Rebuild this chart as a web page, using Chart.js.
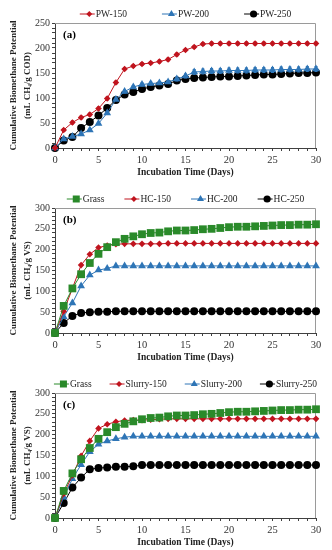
<!DOCTYPE html>
<html>
<head>
<meta charset="utf-8">
<script src="https://cdn.jsdelivr.net/npm/chart.js@4/dist/chart.umd.min.js"></script>
<style>
  html, body { margin: 0; padding: 0; background: #fff; }
  body { width: 332px; height: 550px; position: relative; overflow: hidden; }
  .panel { position: absolute; left: 0; width: 332px; height: 180px; }
</style>
</head>
<body>
<div class="panel" style="top:0"><canvas id="chart-a" width="332" height="180"></canvas></div>
<div class="panel" style="top:185px"><canvas id="chart-b" width="332" height="180"></canvas></div>
<div class="panel" style="top:370px"><canvas id="chart-c" width="332" height="180"></canvas></div>

<script>
/* ── Data ─────────────────────────────────────────────────── */
const days = [0,1,2,3,4,5,6,7,8,9,10,11,12,13,14,15,16,17,18,19,20,21,22,23,24,25,26,27,28,29,30];

// (a) mL CH4 / g COD
const pw150 = [0,36,51,61,67,79,99,131,158,164,168,170,173,177,187,196,202,208,209,209,209,209,209,209,209,209,209,209,209,209,209];
const pw200 = [0,18,23,28,36,49,70,97,113,122,127,129,130,132,138,144,152,153,154,154,155,155,155,156,156,156,157,157,157,158,158];
const pw250 = [0,15,22,40,52,65,80,96,107,112,118,122,125,128,135,138,140,141,142,143,143,144,145,146,147,147,148,149,150,150,151];
const pw150Err = [0,3,3,3,3,3,3,3,3,3,3,3,3,3,3,3,3,3,3,3,3,3,3,3,3,3,3,3,3,3,3];
const pw200Err = [0,2,2,2,2,2,2,2,3,3,3,3,3,3,4,4,5,5,5,5,5,5,5,5,5,5,5,5,5,5,5];

// (b) and (c) mL CH4 / g VS
const grass  = [0,65,107,141,168,190,206,218,226,232,237,240,241,244,246,246,247,249,250,252,254,255,255,256,257,258,259,259,260,260,261];
const hc150  = [0,52,107,163,189,205,210,213,214,214,214,214,214,215,215,215,215,215,215,215,215,215,215,215,215,215,215,215,215,215,215];
const hc200  = [0,39,72,113,139,151,155,161,161,161,161,161,161,161,161,161,161,161,161,161,161,161,161,161,161,161,161,161,161,161,161];
const hc250  = [0,24,41,48,50,51,51,52,52,52,52,52,52,52,52,52,52,52,52,52,52,52,52,52,52,52,52,52,52,52,52];
const slurry150 = [0,58,102,149,185,215,225,231,234,235,235,236,237,238,238,238,238,238,238,238,238,238,238,238,238,238,238,238,238,238,238];
const slurry200 = [0,50,94,128,159,177,185,190,194,196,196,196,196,196,196,196,196,196,196,196,196,196,196,196,196,196,196,196,196,196,196];
const slurry250 = [0,36,73,97,117,120,121,123,123,124,127,127,127,127,127,127,127,127,127,127,127,127,127,127,127,127,127,127,127,127,127];

const xTicksMajor = 5;
const yTicksMajor = 50;

/* ── Styling ──────────────────────────────────────────────── */
const SERIF = "'Liberation Serif', 'DejaVu Serif', serif";
const RED = '#C0141E', BLUE = '#2E75B6', GREEN = '#2A8A2A', BLACK = '#000000';
const AXIS = '#404040';

const styles = {
  red:   { color: RED,   pointStyle: 'rectRot',  radius: 3.3 },
  blue:  { color: BLUE,  pointStyle: 'triangle', radius: 4.5 },
  black: { color: BLACK, pointStyle: 'circle',   radius: 4 },
  green: { color: GREEN, pointStyle: 'rect',     radius: 5.5 }
};

function series(label, data, style, errors) {
  return {
    label, data, errors,
    borderColor: style.color, backgroundColor: style.color,
    borderWidth: 1, tension: 0,
    pointStyle: style.pointStyle, pointRadius: style.radius,
    pointBorderWidth: 0, pointHoverRadius: style.radius,
    clip: false
  };
}

/* ── Decorations: frame, panel tag, error bars, legend ───── */
const decor = {
  id: 'decor',
  beforeDatasetsDraw(chart) {
    const { ctx, chartArea: a } = chart;
    ctx.save();
    ctx.strokeStyle = '#9a9a9a';
    ctx.lineWidth = 1;
    ctx.beginPath();
    ctx.moveTo(a.left, a.top + 0.5);
    ctx.lineTo(a.right - 0.5, a.top + 0.5);
    ctx.lineTo(a.right - 0.5, a.bottom);
    ctx.stroke();
    ctx.restore();
  },
  afterDatasetsDraw(chart) {
    const { ctx, scales: { x, y } } = chart;
    ctx.save();
    chart.data.datasets.forEach(ds => {
      if (!ds.errors) return;
      ctx.strokeStyle = ds.borderColor;
      ctx.lineWidth = 1;
      ds.data.forEach((v, i) => {
        const e = ds.errors[i];
        if (!e) return;
        const px = x.getPixelForValue(days[i]);
        const y1 = y.getPixelForValue(v + e), y2 = y.getPixelForValue(v - e);
        ctx.beginPath();
        ctx.moveTo(px, y1); ctx.lineTo(px, y2);
        ctx.moveTo(px - 1.5, y1); ctx.lineTo(px + 1.5, y1);
        ctx.moveTo(px - 1.5, y2); ctx.lineTo(px + 1.5, y2);
        ctx.stroke();
      });
    });
    ctx.restore();
  },
  afterDraw(chart, args, opts) {
    const { ctx, chartArea: a } = chart;
    ctx.save();
    // panel tag
    ctx.font = `bold 11px ${SERIF}`;
    ctx.fillStyle = '#000';
    ctx.textBaseline = 'middle';
    ctx.fillText(opts.tag, a.left + 8, a.top + 12);

    // legend: line + marker + label
    ctx.font = `9.5px ${SERIF}`;
    const sw = 15;
    const items = chart.data.datasets;
    const widths = items.map(d => sw + 1 + ctx.measureText(d.label).width);
    const total = widths.reduce((s, w) => s + w, 0) + opts.gap * (items.length - 1);
    let lx = (a.left + a.right) / 2 - total / 2;
    const ly = 14;
    items.forEach((d, i) => {
      ctx.strokeStyle = d.borderColor;
      ctx.fillStyle = d.backgroundColor;
      ctx.lineWidth = 1;
      ctx.beginPath();
      ctx.moveTo(lx, ly); ctx.lineTo(lx + sw, ly);
      ctx.stroke();
      Chart.helpers.drawPoint(ctx, { pointStyle: d.pointStyle, radius: d.pointRadius * 0.9, rotation: 0, borderWidth: 0 }, lx + sw / 2 + 2, ly);
      ctx.fillStyle = '#222';
      ctx.fillText(d.label, lx + sw + 1, ly + 0.5);
      lx += widths[i] + opts.gap;
    });
    ctx.restore();
  }
};

/* ── Chart builder ────────────────────────────────────────── */
function makeChart(id, datasets, yMax, yUnit, tag, gap) {
  return new Chart(document.getElementById(id), {
    type: 'line',
    data: { labels: days, datasets },
    options: {
      responsive: false, animation: false,
      layout: { padding: { top: 23, right: 16, bottom: 0, left: 0 } },
      plugins: {
        legend: { display: false },
        tooltip: { enabled: false },
        decor: { tag, gap }
      },
      scales: {
        x: {
          type: 'linear', min: 0, max: 30,
          border: { color: AXIS, width: 1 },
          grid: { drawOnChartArea: false, tickLength: 3, color: AXIS },
          ticks: {
            stepSize: 1, autoSkip: false, maxRotation: 0, padding: 3,
            color: '#333', font: { family: SERIF, size: 10.5 },
            callback: v => (v % xTicksMajor === 0 ? v : '')
          },
          title: {
            display: true, text: 'Incubation Time (Days)', color: '#222',
            font: { family: SERIF, size: 9.5, weight: 'bold' }, padding: { top: 0, bottom: 2 }
          },
          afterFit: s => { s.width = s.width; s.height = 32; }
        },
        y: {
          min: 0, max: yMax,
          border: { color: AXIS, width: 1 },
          grid: { drawOnChartArea: false, tickLength: 3, color: AXIS },
          ticks: {
            stepSize: 10, autoSkip: false, padding: 2,
            color: '#333', font: { family: SERIF, size: 10 },
            callback: v => (v % yTicksMajor === 0 ? v : '')
          },
          title: {
            display: true, text: ['Cumulative Biomethane Potential', yUnit], color: '#222',
            font: { family: SERIF, size: 9, weight: 'bold', lineHeight: 1.5 }, padding: { top: 7, bottom: 0 }
          },
          afterFit: s => { s.width = 55; }
        }
      }
    },
    plugins: [decor]
  });
}

makeChart('chart-a', [
  series('PW-150', pw150, styles.red, pw150Err),
  series('PW-200', pw200, styles.blue, pw200Err),
  series('PW-250', pw250, styles.black)
], 250, '(mL CH\u2084/g COD)', '(a)', 35);

makeChart('chart-b', [
  series('Grass', grass, styles.green),
  series('HC-150', hc150, styles.red),
  series('HC-200', hc200, styles.blue),
  series('HC-250', hc250, styles.black)
], 300, '(mL CH\u2084/g VS)', '(b)', 20);

makeChart('chart-c', [
  series('Grass', grass, styles.green),
  series('Slurry-150', slurry150, styles.red),
  series('Slurry-200', slurry200, styles.blue),
  series('Slurry-250', slurry250, styles.black)
], 300, '(mL CH\u2084/g VS)', '(c)', 18);
</script>
</body>
</html>
